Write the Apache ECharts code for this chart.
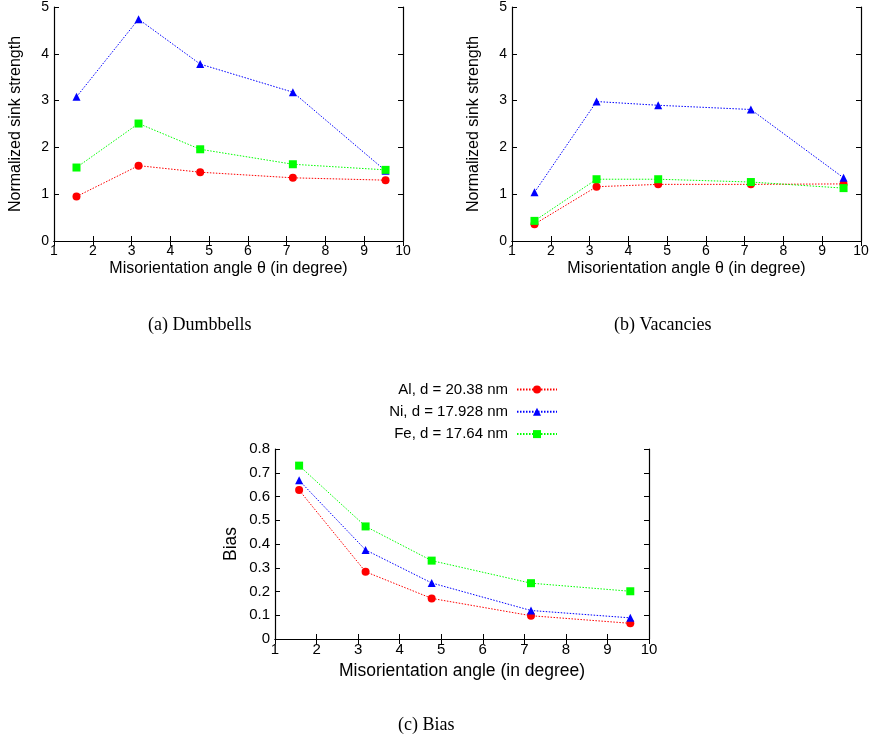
<!DOCTYPE html>
<html><head><meta charset="utf-8">
<script src="https://cdn.jsdelivr.net/npm/echarts@6/dist/echarts.min.js"></script>
<style>html,body{margin:0;padding:0;background:#fff}#c{width:872px;height:748px}</style>
</head><body><div id="c"></div>
<script>
var angles = [1.58, 3.18, 4.77, 7.16, 9.55];
var seriesNames = ['Al, d = 20.38 nm', 'Ni, d = 17.928 nm', 'Fe, d = 17.64 nm'];
// (a) Dumbbells
var dumbAl = [0.95, 1.61, 1.47, 1.35, 1.30];
var dumbNi = [3.08, 4.74, 3.78, 3.18, 1.50];
var dumbFe = [1.57, 2.51, 1.96, 1.64, 1.52];
// (b) Vacancies
var vacAl = [0.36, 1.16, 1.21, 1.21, 1.22];
var vacNi = [1.04, 2.98, 2.90, 2.81, 1.35];
var vacFe = [0.43, 1.32, 1.32, 1.26, 1.13];
// (c) Bias
var biasAl = [0.627, 0.283, 0.171, 0.098, 0.066];
var biasNi = [0.668, 0.375, 0.236, 0.120, 0.089];
var biasFe = [0.730, 0.474, 0.330, 0.235, 0.201];

var colors = ['#ff0000', '#0000ff', '#00ff00'];
var symbols = ['circle', 'triangle', 'rect'];
var sizes = [8, 8, 8];
var sans = 'Liberation Sans, Arial, sans-serif';

function pairs(ys){ return angles.map(function(x,i){return [x, ys[i]];}); }

function mk(idx, ys, gi){
  return {
    type: 'line', name: seriesNames[idx], xAxisIndex: gi*2, yAxisIndex: gi*2,
    data: pairs(ys), symbol: symbols[idx], symbolSize: sizes[idx],
    color: colors[idx],
    lineStyle: {color: colors[idx], width: 1, type: [1.5, 1.5]},
    itemStyle: {color: colors[idx]},
    animation: false, z: 3 + idx
  };
}

var grids = [
  {left: 54, top: 7, width: 349, height: 234},
  {left: 512, top: 7, width: 349, height: 234},
  {left: 275, top: 449, width: 374, height: 190}
];

var xAxes = [], yAxes = [];
var xNames = ['Misorientation angle θ (in degree)', 'Misorientation angle θ (in degree)', 'Misorientation angle (in degree)'];
var yNames = ['Normalized sink strength', 'Normalized sink strength', 'Bias'];
var yMax = [5, 5, 0.8], yInt = [1, 1, 0.1];
var tickFs = [14, 14, 15], nameFs = [16, 16, 17.5];
var xGap = [20, 20, 23], yGap = [30, 30, 35];
for (var g = 0; g < 3; g++) {
  var ax = {lineStyle: {color: '#000', width: 1.2}};
  xAxes.push({
    type: 'value', gridIndex: g, min: 1, max: 10, interval: 1, position: 'bottom',
    name: xNames[g], nameLocation: 'middle', nameGap: xGap[g],
    nameTextStyle: {fontFamily: sans, fontSize: nameFs[g], color: '#000'},
    axisLine: ax, axisTick: {inside: true, length: 5, lineStyle: {color: '#000'}},
    axisLabel: {fontFamily: sans, fontSize: tickFs[g], color: '#000', margin: 3, showMaxLabel: true, showMinLabel: true},
    splitLine: {show: false}
  });
  xAxes.push({
    type: 'value', gridIndex: g, min: 1, max: 10, interval: 1, position: 'top',
    axisLine: ax, axisTick: {inside: true, length: 5, lineStyle: {color: '#000'}},
    axisLabel: {show: false}, splitLine: {show: false}
  });
  yAxes.push({
    type: 'value', gridIndex: g, min: 0, max: yMax[g], interval: yInt[g], position: 'left',
    name: yNames[g], nameLocation: 'middle', nameGap: yGap[g],
    nameTextStyle: {fontFamily: sans, fontSize: nameFs[g], color: '#000'},
    axisLine: {show: true, lineStyle: {color: '#000', width: 1.2}},
    axisTick: {show: true, inside: true, length: 5, lineStyle: {color: '#000'}},
    axisLabel: {fontFamily: sans, fontSize: tickFs[g], color: '#000', margin: 5},
    splitLine: {show: false}
  });
  yAxes.push({
    type: 'value', gridIndex: g, min: 0, max: yMax[g], interval: yInt[g], position: 'right',
    axisLine: {show: true, lineStyle: {color: '#000', width: 1.2}},
    axisTick: {show: true, inside: true, length: 5, lineStyle: {color: '#000'}},
    axisLabel: {show: false}, splitLine: {show: false}
  });
}

var series = [
  mk(0, dumbAl, 0), mk(1, dumbNi, 0), mk(2, dumbFe, 0),
  mk(0, vacAl, 1), mk(1, vacNi, 1), mk(2, vacFe, 1),
  mk(0, biasAl, 2), mk(1, biasNi, 2), mk(2, biasFe, 2)
];

var serif = 'Liberation Serif, Times New Roman, serif';
var chart = echarts.init(document.getElementById('c'), null, {renderer: 'canvas'});
chart.setOption({
  animation: false,
  backgroundColor: '#fff',
  grid: grids, xAxis: xAxes, yAxis: yAxes, series: series,
  legend: {
    data: seriesNames, orient: 'vertical', align: 'right',
    right: 309, top: 377, itemWidth: 40, itemHeight: 10, itemGap: 7.3,
    textStyle: {fontFamily: sans, fontSize: 15, color: '#000', padding: [0, 4, 0, 0]}
  },
  graphic: [
    {type: 'text', left: 148, top: 316, style: {text: '(a) Dumbbells', font: '18px ' + serif, fill: '#000'}},
    {type: 'text', left: 614, top: 316, style: {text: '(b) Vacancies', font: '18px ' + serif, fill: '#000'}},
    {type: 'text', left: 398, top: 716, style: {text: '(c) Bias', font: '18px ' + serif, fill: '#000'}}
  ]
});
</script></body></html>
